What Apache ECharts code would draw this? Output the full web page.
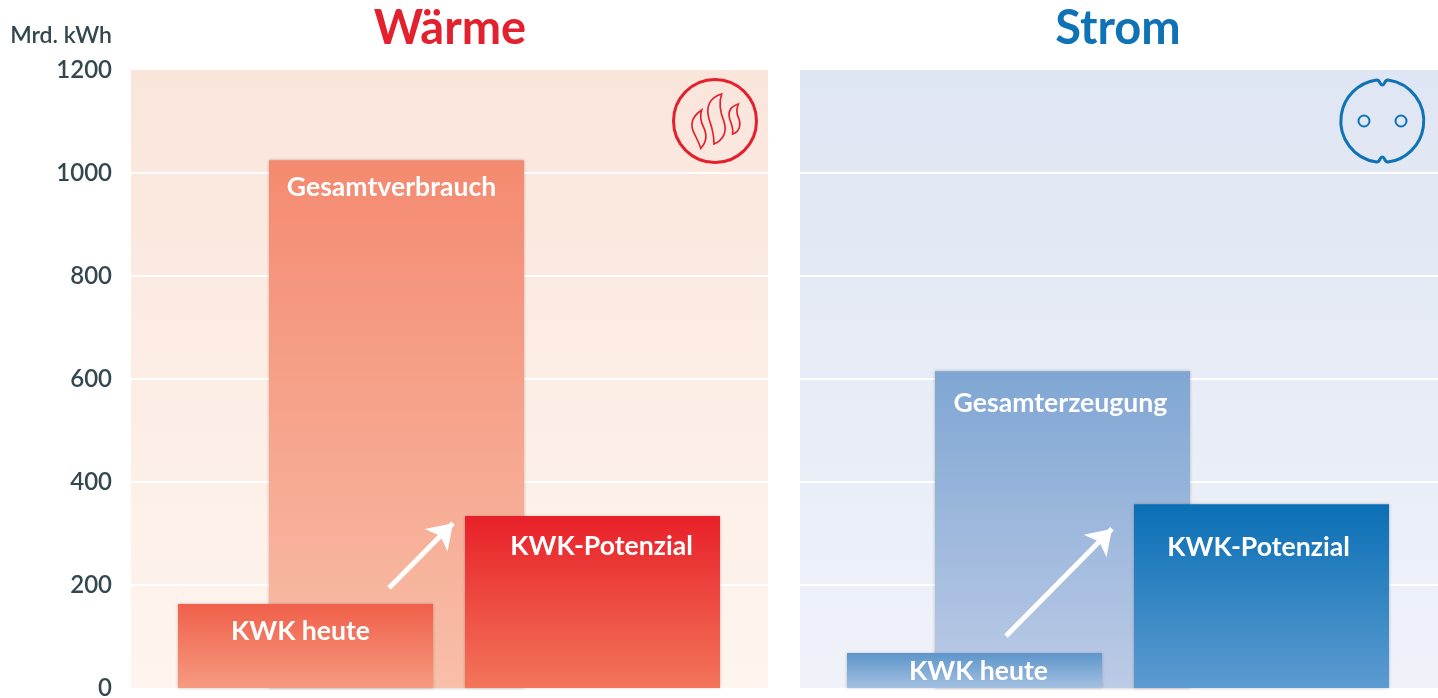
<!DOCTYPE html>
<html>
<head>
<meta charset="utf-8">
<title>Wärme und Strom</title>
<script src="https://cdn.jsdelivr.net/npm/echarts@6/dist/echarts.min.js"></script>
<style>
  html, body { margin: 0; padding: 0; background: #fff; }
  #chart { width: 1438px; height: 698px; }
</style>
</head>
<body>
<div id="chart"></div>
<script>
// Data, Mrd. kWh
var yTicks = [0, 200, 400, 600, 800, 1000, 1200];
var heatNames = ['Gesamtverbrauch', 'KWK heute', 'KWK-Potenzial'];
var heatValues = [1025, 163, 334];
var powerNames = ['Gesamterzeugung', 'KWK heute', 'KWK-Potenzial'];
var powerValues = [615, 68, 357];

// Layout: bar centres and arrows along the hidden x axis (0..panel width in px)
var heatCenters = [265.5, 174.5, 461.5];
var powerCenters = [262.5, 174.5, 461.5];
var heatArrow = [[258, 194], [322, 320]];
var powerArrow = [[206, 101], [312, 309]];
var heatLabelOffsets = [[-5, 14], [-5, 14], [9, 17]];
var powerLabelOffsets = [[-2, 19], [4, 5], [-3, 30]];

var fontFamily = 'Lato, "Open Sans", sans-serif';

function fade(top, bottom) {
  return new echarts.graphic.LinearGradient(0, 0, 0, 1, [
    { offset: 0, color: top },
    { offset: 1, color: bottom }
  ]);
}

var heatColors = [['#f48a70', '#f8bfa9'], ['#f0604a', '#f59a80'], ['#e82029', '#f3755a']];
var powerColors = [['#7fa6d3', '#bccbe6'], ['#5d95cb', '#a3c0e0'], ['#0a6fb5', '#5c9bd0']];

function panelSeries(index, names, values, centers, colors, offsets, arrow) {
  return {
    type: 'bar',
    xAxisIndex: index,
    yAxisIndex: index,
    barWidth: 255,
    silent: true,
    animation: false,
    data: names.map(function (name, i) {
      return {
        name: name,
        value: [centers[i], values[i]],
        itemStyle: {
          color: fade(colors[i][0], colors[i][1]),
          shadowColor: 'rgba(90,60,50,0.35)',
          shadowBlur: 3
        },
        label: {
          show: true,
          position: 'insideTop',
          distance: 0,
          offset: offsets[i],
          formatter: name,
          color: '#fff',
          fontFamily: fontFamily,
          fontWeight: 'bold',
          fontSize: 26.6
        }
      };
    }),
    markLine: {
      silent: true,
      animation: false,
      symbol: ['none', 'arrow'],
      symbolSize: 24,
      label: { show: false },
      lineStyle: { color: '#fff', width: 5, type: 'solid', opacity: 1 },
      data: [[{ coord: arrow[0] }, { coord: arrow[1] }]]
    }
  };
}

function yAxis(index, showLabels) {
  return {
    type: 'value',
    gridIndex: index,
    min: 0,
    max: 1200,
    interval: 200,
    name: showLabels ? 'Mrd. kWh' : '',
    nameLocation: 'end',
    nameGap: 23,
    nameTextStyle: { color: '#33474f', fontFamily: fontFamily, fontWeight: 600, fontSize: 23, align: 'right', padding: [0, 19, 0, 0] },
    axisLine: { show: false },
    axisTick: { show: false },
    axisLabel: {
      show: showLabels,
      customValues: yTicks,
      formatter: function (v) { return String(v); },
      color: '#33474f',
      fontFamily: fontFamily,
      fontWeight: 600,
      fontSize: 24,
      margin: 19
    },
    splitLine: { show: true, showMinLine: false, showMaxLine: false, lineStyle: { color: '#fff', width: 2 } }
  };
}

function xAxis(index, width) {
  return { type: 'value', gridIndex: index, min: 0, max: width, show: false };
}

// Corner icons, drawn in a custom series because the graphic component has no free path
var flamePaths = [
  'M155 150 C125 170 118 195 135 225 C142 240 150 255 152 265 C172 245 172 225 160 200 C150 180 150 165 155 150 Z',
  'M215 102 C180 112 165 140 178 180 C187 205 192 230 192 252 C220 240 232 215 222 185 C210 155 205 130 215 102 Z',
  'M265 132 C240 140 232 155 240 180 C246 195 250 210 248 222 C268 215 275 195 265 172 C258 158 260 145 265 132 Z'
];
var plugPath = 'M1376.6 79.9 Q1379 80 1380 83 Q1382.3 87 1384.6 83 Q1385.6 80 1388 79.9 A41.5 41.5 0 0 1 1388 162.1 Q1385.6 162 1384.6 159 Q1382.3 155 1380 159 Q1379 162 1376.6 162.1 A41.5 41.5 0 0 1 1376.6 79.9 Z';

function renderIcons() {
  return {
    type: 'group',
    children: [
      { type: 'circle', shape: { cx: 715, cy: 121, r: 41.5 }, style: { fill: 'none', stroke: '#e3202e', lineWidth: 3 } },
      {
        type: 'group', x: 650, y: 60, scaleX: 1 / 3, scaleY: 1 / 3,
        children: flamePaths.map(function (d) {
          return { type: 'path', shape: { pathData: d }, style: { fill: 'none', stroke: '#e3202e', lineWidth: 5 } };
        })
      },
      { type: 'path', shape: { pathData: plugPath }, style: { fill: 'none', stroke: '#0f72b5', lineWidth: 3 } },
      { type: 'circle', shape: { cx: 1364, cy: 121, r: 5.5 }, style: { fill: 'none', stroke: '#0f72b5', lineWidth: 2 } },
      { type: 'circle', shape: { cx: 1401, cy: 121, r: 5.5 }, style: { fill: 'none', stroke: '#0f72b5', lineWidth: 2 } }
    ]
  };
}

var option = {
  backgroundColor: '#fff',
  animation: false,
  title: [
    { text: 'Wärme', left: 445, top: 0, textAlign: 'center', textStyle: { color: '#e3202e', fontFamily: fontFamily, fontWeight: 'bold', fontSize: 47 } },
    { text: 'Strom', left: 1113, top: 0, textAlign: 'center', textStyle: { color: '#0f72b5', fontFamily: fontFamily, fontWeight: 'bold', fontSize: 47 } }
  ],
  grid: [
    { left: 131, top: 70, width: 637, height: 618, show: true, borderWidth: 0, outerBoundsMode: 'none', backgroundColor: fade('#fae5db', '#fef5ef') },
    { left: 800, top: 70, width: 638, height: 618, show: true, borderWidth: 0, outerBoundsMode: 'none', backgroundColor: fade('#dfe6f3', '#eff2f9') }
  ],
  xAxis: [xAxis(0, 637), xAxis(1, 638)],
  yAxis: [yAxis(0, true), yAxis(1, false)],
  series: [
    panelSeries(0, heatNames, heatValues, heatCenters, heatColors, heatLabelOffsets, heatArrow),
    panelSeries(1, powerNames, powerValues, powerCenters, powerColors, powerLabelOffsets, powerArrow),
    { type: 'custom', coordinateSystem: 'none', silent: true, z: 10, data: [0], renderItem: renderIcons }
  ]
};

var chart = echarts.init(document.getElementById('chart'));
chart.setOption(option);
</script>
</body>
</html>
